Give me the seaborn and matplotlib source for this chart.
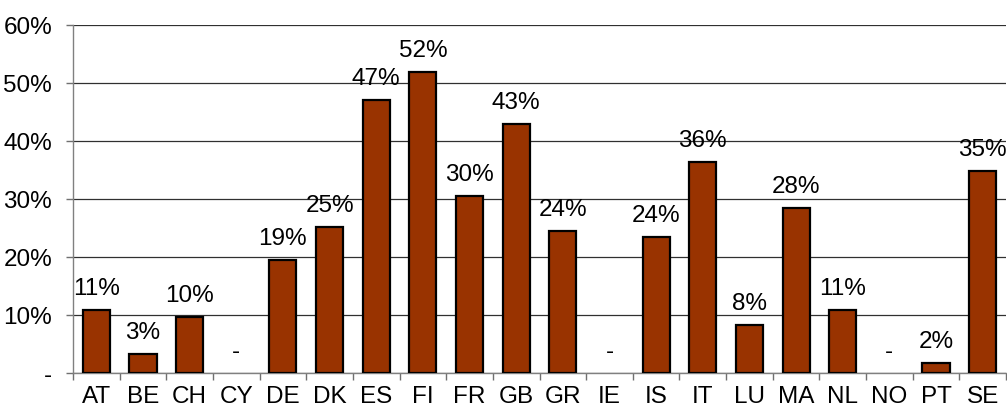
import numpy as np
import pandas as pd
import matplotlib
matplotlib.use("Agg")
import matplotlib.pyplot as plt
import seaborn as sns
from matplotlib.ticker import FixedLocator

countries = ["AT", "BE", "CH", "CY", "DE", "DK", "ES", "FI", "FR", "GB",
             "GR", "IE", "IS", "IT", "LU", "MA", "NL", "NO", "PT", "SE"]
values = [10.9, 3.3, 9.7, np.nan, 19.5, 25.2, 47.0, 51.9, 30.5, 42.9,
          24.5, np.nan, 23.4, 36.3, 8.3, 28.4, 10.8, np.nan, 1.7, 34.8]
value_labels = ["11%", "3%", "10%", "-", "19%", "25%", "47%", "52%", "30%", "43%",
                "24%", "-", "24%", "36%", "8%", "28%", "11%", "-", "2%", "35%"]
ytick_values = [0, 10, 20, 30, 40, 50, 60]
ytick_labels = ["-", "10%", "20%", "30%", "40%", "50%", "60%"]

FS = 17.5

sns.set_theme(style="white")
plt.rcParams["font.family"] = ["Liberation Sans", "DejaVu Sans"]
plt.rcParams["text.color"] = "black"
plt.rcParams["xtick.color"] = "black"
plt.rcParams["ytick.color"] = "black"

fig = plt.figure(figsize=(10.07, 4.10), dpi=100)
ax = fig.add_axes([73 / 1007, 36 / 410, (1006 - 73) / 1007, (374 - 26) / 410])

df = pd.DataFrame({"country": countries, "value": values})
sns.barplot(data=df, x="country", y="value", color="#993300", saturation=1,
            edgecolor="black", linewidth=1.6, width=0.58, ax=ax, zorder=3)

ax.set_ylim(0, 60)
ax.set_xlim(-0.5, len(countries) - 0.5)
ax.set_yticks(ytick_values)
ax.set_yticklabels(ytick_labels, fontsize=FS, color="black")
ax.yaxis.grid(True, color="#303030", linewidth=0.9, zorder=0)
ax.set_axisbelow(True)

ax.set_xticks(range(len(countries)))
ax.set_xticklabels(countries, fontsize=FS, color="black")
ax.xaxis.set_minor_locator(FixedLocator([i - 0.5 for i in range(len(countries) + 1)]))
ax.tick_params(axis="x", which="major", length=0, pad=9)
ax.tick_params(axis="x", which="minor", length=5, width=1, color="#707070", direction="out", bottom=True)
ax.tick_params(axis="y", which="major", length=5, width=1, color="#707070", direction="out", left=True, pad=10)
ax.set_xlabel("")
ax.set_ylabel("")

for s in ["top", "right"]:
    ax.spines[s].set_visible(False)
for s in ["left", "bottom"]:
    ax.spines[s].set_color("#808080")
    ax.spines[s].set_linewidth(1)

for i, (v, lab) in enumerate(zip(values, value_labels)):
    h = 0 if np.isnan(v) else v
    ax.annotate(lab, xy=(i, h), xytext=(0, 8), textcoords="offset points",
                ha="center", va="bottom", fontsize=FS, color="black",
                annotation_clip=False)

fig.savefig("out.png", dpi=100)
